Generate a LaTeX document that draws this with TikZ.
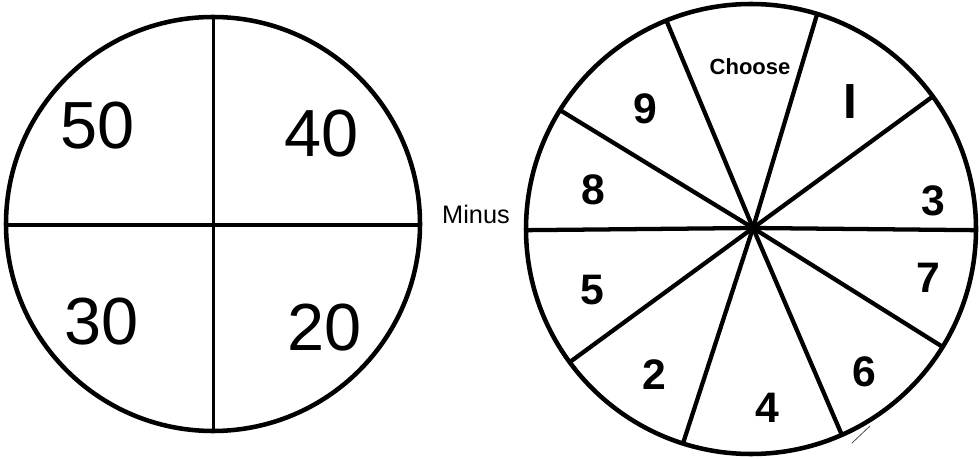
\documentclass[tikz,border=0pt]{standalone}
\usepackage{fontspec}
\setmainfont{Liberation Sans}
\usetikzlibrary{calc}
\begin{document}
\begin{tikzpicture}[x=0.75pt,y=-0.75pt,
  ring/.style={line width=3.4pt},
  cross/.style={line width=2.6pt},
  spoke/.style={line width=3.2pt},
  bignum/.style={font=\fontsize{50}{50}\selectfont, inner sep=0pt},
  wnum/.style={font=\fontsize{32}{32}\selectfont\bfseries, inner sep=0pt},
  smalltxt/.style={font=\fontsize{16.5}{16.5}\selectfont\bfseries, inner sep=0pt},
  midtxt/.style={font=\fontsize{19}{19}\selectfont, inner sep=0pt}]
\useasboundingbox (0,0) rectangle (980,459);
% left wheel
\coordinate (LC) at (213,224);
\draw[ring] (LC) circle[radius=207];
\coordinate (LT) at (213.3,17);
\coordinate (LB) at (213.3,431);
\coordinate (LL) at (6,225);
\coordinate (LR) at (420,225);
\draw[cross] (LT) -- (LB);
\draw[cross] (LL) -- (LR);
\node[bignum] (n50) at (98,126) {50};
\node[bignum] (n40) at (322,134) {40};
\node[bignum] (n30) at (102,322) {30};
\node[bignum] (n20) at (325,328) {20};
% label between
\node[midtxt] (minus) at (476,214) {Minus};
% right wheel
\coordinate (RC) at (751,229);
\coordinate (H) at (753,228);
\draw[ring] (RC) circle[radius=225];
\foreach \a/\nm in {112.1/a,72.9/b,36.1/c,-0.3/d,-31.6/e,-66.2/f,-107.6/g,-143.7/h,180.3/i,148.1/j}{
  \coordinate (s\nm) at ($(RC)+({225*cos(\a)},{-225*sin(\a)})$);
  \draw[spoke] (H) -- (s\nm);
}
\node[smalltxt] (choose) at (750,67) {Choose};
\node[wnum] (n9) at (645,109) {9};
\node[wnum, font=\fontsize{37}{37}\selectfont\bfseries] (nI) at (850,102) {I};
\node[wnum] (n8) at (593,190) {8};
\node[wnum] (n3) at (933,201) {3};
\node[wnum] (n7) at (928,278) {7};
\node[wnum] (n5) at (592,290) {5};
\node[wnum] (n2) at (654,375) {2};
\node[wnum] (n4) at (767,408) {4};
\node[wnum] (n6) at (864,372) {6};
% stray mark
\coordinate (m1) at (852,443);
\coordinate (m2) at (870,426);
\draw[line width=0.6pt, black!70] (m1) -- (m2);
\end{tikzpicture}
\end{document}
